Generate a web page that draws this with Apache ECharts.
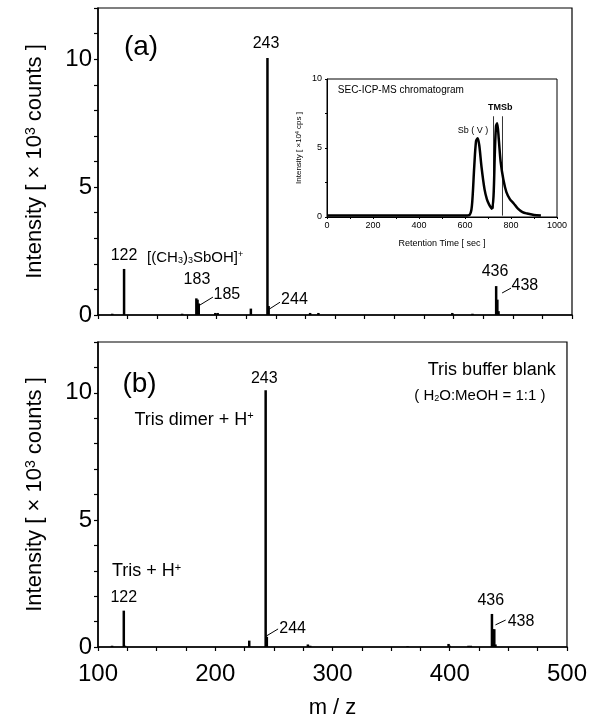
<!DOCTYPE html>
<html>
<head>
<meta charset="utf-8">
<script src="https://cdn.jsdelivr.net/npm/echarts@6/dist/echarts.min.js"></script>
<style>
  html, body { margin: 0; padding: 0; background: #fff; }
  #main { width: 590px; height: 720px; }
</style>
</head>
<body>
<div id="main"></div>
<script>
// spectrum (a): m/z and intensity (x10^3 counts)
var mzA  = [112, 122, 171, 183, 184, 185, 199, 201, 229, 243, 244, 279, 286, 399, 416, 436, 437, 438];
var intA = [0.05, 1.8, 0.05, 0.65, 0.6, 0.45, 0.08, 0.08, 0.25, 10.05, 0.35, 0.08, 0.08, 0.08, 0.05, 1.13, 0.6, 0.15];
// spectrum (b): Tris buffer blank
var mzB  = [112, 122, 123, 229, 243, 244, 279, 281, 364, 399, 400, 416, 418, 436, 437, 438, 439];
var intB = [0.05, 1.43, 0.05, 0.25, 10.1, 0.4, 0.1, 0.05, 0.03, 0.12, 0.05, 0.05, 0.05, 1.3, 0.7, 0.7, 0.1];
// inset chromatogram: retention time (sec) and intensity (x10^4 cps)
var rtSec = [0, 100, 200, 300, 400, 500, 600, 620, 630, 640, 648, 655, 662, 672, 685, 695, 705, 717, 724, 730, 735, 740, 747, 755, 767, 780, 795, 811, 830, 850, 870, 900, 930];
var rtInt = [0.1, 0.1, 0.1, 0.1, 0.1, 0.1, 0.1, 0.15, 0.8, 3.6, 5.5, 5.7, 5.2, 3.6, 2.0, 1.3, 0.9, 0.6, 1.5, 4.8, 6.6, 6.8, 5.6, 4.0, 2.7, 1.8, 1.3, 1.0, 0.6, 0.35, 0.25, 0.15, 0.1];
var cutLines = [[724, 0.6, 7.3], [763, 0.1, 7.3]];
var mzTicks = [100, 200, 300, 400, 500];
var intTicks = [0, 5, 10];

// text annotations: [text, x, y, fontSize, align]
var annA = [
  ['(a)', 136.3, 10.47, 28, 'center'],
  ['243', 241.8, 10.6, 16, 'center'],
  ['122', 122, 2.34, 16, 'center'],
  ['[(CH{s|3}){s|3}SbOH]{p|+}', 141.4, 2.23, 15, 'left'],
  ['183', 183.5, 1.37, 16, 'center'],
  ['185', 197.5, 0.78, 16, 'left'],
  ['244', 254.5, 0.59, 16, 'left'],
  ['436', 435, 1.68, 16, 'center'],
  ['438', 449, 1.13, 16, 'left']
];
var leadA = [[186, 0.39, 197, 0.7], [243.5, 0.2, 253.6, 0.5], [441, 0.86, 448.5, 1.05]];
var annB = [
  ['(b)', 135.4, 10.35, 28, 'center'],
  ['243', 241.8, 10.55, 16, 'center'],
  ['Tris dimer + H{p|+}', 181.9, 8.94, 18, 'center'],
  ['Tris + H{p|+}', 141.4, 2.99, 18, 'center'],
  ['122', 122, 1.93, 16, 'center'],
  ['244', 254.6, 0.71, 16, 'left'],
  ['Tris buffer blank', 435.9, 10.9, 18, 'center'],
  ['( H{s|2}O:MeOH = 1:1 )', 425.7, 9.88, 15, 'center'],
  ['436', 435, 1.81, 16, 'center'],
  ['438', 449.4, 0.98, 16, 'left']
];
var leadB = [[243.5, 0.43, 253.6, 0.71], [439, 0.87, 447.7, 1.06]];
var annIn = [
  ['SEC-ICP-MS chromatogram', 47, 9.15, 10, 'left', 'normal'],
  ['TMSb', 753, 7.9, 9, 'center', 'bold'],
  ['Sb ( V )', 635, 6.3, 9, 'center', 'normal']
];

var FONT = '"Liberation Sans", Arial, sans-serif';

function richFor(fs) {
  var small = Math.round(fs * 0.62);
  return {
    s: { fontSize: small, fontFamily: FONT, color: '#000', lineHeight: small, verticalAlign: 'bottom' },
    p: { fontSize: small, fontFamily: FONT, color: '#000', lineHeight: small, verticalAlign: 'top' }
  };
}

function pairs(xs, ys) {
  return xs.map(function (x, i) { return [x, ys[i]]; });
}

function mainX(idx, showLabels) {
  return {
    type: 'value', gridIndex: idx, min: 100, max: 500, interval: 25,
    axisLine: { lineStyle: { color: '#000', width: 1.5 } },
    axisTick: { length: 4, lineStyle: { color: '#000', width: 1.2 } },
    axisLabel: {
      show: showLabels, fontSize: 24, fontFamily: FONT, color: '#000', margin: 15,
      formatter: function (v) { return mzTicks.indexOf(v) >= 0 ? String(v) : ''; }
    },
    splitLine: { show: false },
    name: showLabels ? 'm / z' : '', nameLocation: 'middle', nameGap: 50,
    nameTextStyle: { fontSize: 22, fontFamily: FONT, color: '#000' }
  };
}

function mainY(idx) {
  return {
    type: 'value', gridIndex: idx, min: 0, max: 12, interval: 1,
    axisLine: { show: true, lineStyle: { color: '#000', width: 1.5 } },
    axisTick: { show: true, length: 4, lineStyle: { color: '#000', width: 1.2 } },
    axisLabel: {
      fontSize: 24, fontFamily: FONT, color: '#000', margin: 6,
      formatter: function (v) { return intTicks.indexOf(v) >= 0 ? String(v) : ''; }
    },
    splitLine: { show: false },
    name: 'Intensity [ \u00d7 10{p|3} counts ]', nameLocation: 'middle', nameGap: 52,
    nameTextStyle: { fontSize: 22, fontFamily: FONT, color: '#000', rich: richFor(22) }
  };
}

var chart = echarts.init(document.getElementById('main'));

var option = {
  animation: false,
  backgroundColor: '#fff',
  grid: [
    { left: 98, right: 18, top: 8, height: 307, show: true, borderColor: '#000', borderWidth: 1.2 },
    { left: 98, right: 18, top: 342, height: 305, show: true, borderColor: '#000', borderWidth: 1.2 },
    { left: 327, width: 230, top: 79, height: 138, show: true, borderColor: '#000', borderWidth: 1 }
  ],
  xAxis: [
    mainX(0, false),
    mainX(1, true),
    {
      type: 'value', gridIndex: 2, min: 0, max: 1000, interval: 200,
      axisLine: { lineStyle: { color: '#000', width: 1 } },
      axisTick: { length: 2, lineStyle: { color: '#000' } },
      minorTick: { show: true, splitNumber: 2, length: 2, lineStyle: { color: '#000' } },
      axisLabel: { fontSize: 9, fontFamily: FONT, color: '#000', margin: 4,
        formatter: function (v) { return String(v); } },
      splitLine: { show: false },
      name: 'Retention Time [ sec ]', nameLocation: 'middle', nameGap: 22,
      nameTextStyle: { fontSize: 9, fontFamily: FONT, color: '#000' }
    }
  ],
  yAxis: [
    mainY(0),
    mainY(1),
    {
      type: 'value', gridIndex: 2, min: 0, max: 10, interval: 5,
      axisLine: { show: true, lineStyle: { color: '#000', width: 1 } },
      axisTick: { show: true, length: 2, lineStyle: { color: '#000' } },
      minorTick: { show: true, splitNumber: 2, length: 2, lineStyle: { color: '#000' } },
      axisLabel: { fontSize: 9, fontFamily: FONT, color: '#000', margin: 5 },
      splitLine: { show: false },
      name: 'Intensity [ \u00d710{p|4} cps ]', nameLocation: 'middle', nameGap: 24,
      nameTextStyle: { fontSize: 8, fontFamily: FONT, color: '#000', rich: richFor(8) }
    }
  ],
  series: [
    {
      type: 'bar', xAxisIndex: 0, yAxisIndex: 0, barWidth: 2.5,
      itemStyle: { color: '#000' }, data: pairs(mzA, intA)
    },
    {
      type: 'bar', xAxisIndex: 1, yAxisIndex: 1, barWidth: 2.5,
      itemStyle: { color: '#000' }, data: pairs(mzB, intB)
    },
    {
      type: 'line', xAxisIndex: 2, yAxisIndex: 2, showSymbol: false, smooth: 0.3,
      lineStyle: { color: '#000', width: 2.5 }, data: pairs(rtSec, rtInt)
    }
  ].concat(cutLines.map(function (c) {
    return {
      type: 'line', xAxisIndex: 2, yAxisIndex: 2, showSymbol: false,
      lineStyle: { color: '#000', width: 0.8 }, data: [[c[0], c[1]], [c[0], c[2]]]
    };
  }))
};

chart.setOption(option);

// annotations placed through the axes
var g = [];
function addTexts(list, gi) {
  list.forEach(function (a) {
    var p = chart.convertToPixel({ gridIndex: gi }, [a[1], a[2]]);
    g.push({
      type: 'text', x: p[0], y: p[1], z: 10,
      style: {
        text: a[0], fontSize: a[3], fontFamily: FONT, fontWeight: a[5] || 'normal',
        fill: '#000', align: a[4], verticalAlign: 'middle', rich: richFor(a[3])
      }
    });
  });
}
function addLeads(list, gi) {
  list.forEach(function (l) {
    var p1 = chart.convertToPixel({ gridIndex: gi }, [l[0], l[1]]);
    var p2 = chart.convertToPixel({ gridIndex: gi }, [l[2], l[3]]);
    g.push({
      type: 'line', z: 10,
      shape: { x1: p1[0], y1: p1[1], x2: p2[0], y2: p2[1] },
      style: { stroke: '#000', lineWidth: 1 }
    });
  });
}
addTexts(annA, 0);
addLeads(leadA, 0);
addTexts(annB, 1);
addLeads(leadB, 1);
addTexts(annIn, 2);

chart.setOption({ graphic: g });
</script>
</body>
</html>
